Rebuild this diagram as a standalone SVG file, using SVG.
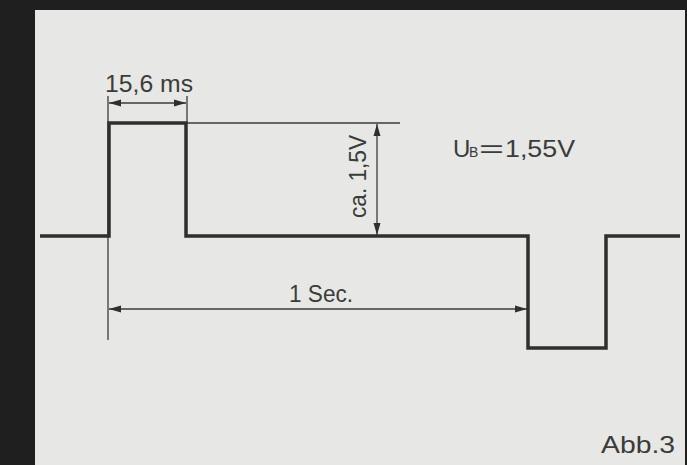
<svg xmlns="http://www.w3.org/2000/svg" width="687" height="465" viewBox="0 0 687 465">
<defs>
<style>
.thin{stroke:#3a3c3a;stroke-width:1.3;fill:none}
.wave{stroke:#2e302e;stroke-width:3.5;fill:none;stroke-linejoin:miter}
text{font-family:"Liberation Sans",Arial,sans-serif;fill:#3a3c3a;font-size:24px}
text.sub{font-size:14px}
</style>
<marker id="ah" markerWidth="12" markerHeight="8" refX="12" refY="4" orient="auto-start-reverse" markerUnits="userSpaceOnUse">
<path d="M0,0.5 L12,4 L0,7.5 Z" fill="#2e302e"/>
</marker>
</defs>
<rect width="687" height="465" fill="#1e1f1e"/>
<rect x="35" y="10" width="650" height="455" fill="#e7e7e5"/>
<g id="connectors">
<path class="thin" d="M108,96 V340"/>
<path class="thin" d="M187,96 V122"/>
<path class="thin" d="M186,123 H400"/>
<path class="thin" d="M109,103 H186" marker-start="url(#ah)" marker-end="url(#ah)"/>
<path class="thin" d="M377,124 V235" marker-start="url(#ah)" marker-end="url(#ah)"/>
<path class="thin" d="M109,309 H527" marker-start="url(#ah)" marker-end="url(#ah)"/>
</g>
<g id="waveform">
<path class="wave" d="M40,236 H109 V123 H186 V236 H528 V348 H606 V236 H680"/>
</g>
<g id="labels">
<text x="105" y="92" textLength="88" lengthAdjust="spacingAndGlyphs">15,6 ms</text>
<text transform="translate(366,135) rotate(-90)" text-anchor="end" textLength="83" lengthAdjust="spacingAndGlyphs">ca. 1,5V</text>
<text x="453" y="157">U</text>
<text class="sub" x="469" y="157">B</text>
<text x="479" y="157" textLength="25" lengthAdjust="spacingAndGlyphs">=</text>
<text x="505" y="157" textLength="70" lengthAdjust="spacingAndGlyphs">1,55V</text>
<text x="289" y="302" textLength="64" lengthAdjust="spacingAndGlyphs">1 Sec.</text>
<text x="601" y="453" textLength="74" lengthAdjust="spacingAndGlyphs">Abb.3</text>
</g>
</svg>
